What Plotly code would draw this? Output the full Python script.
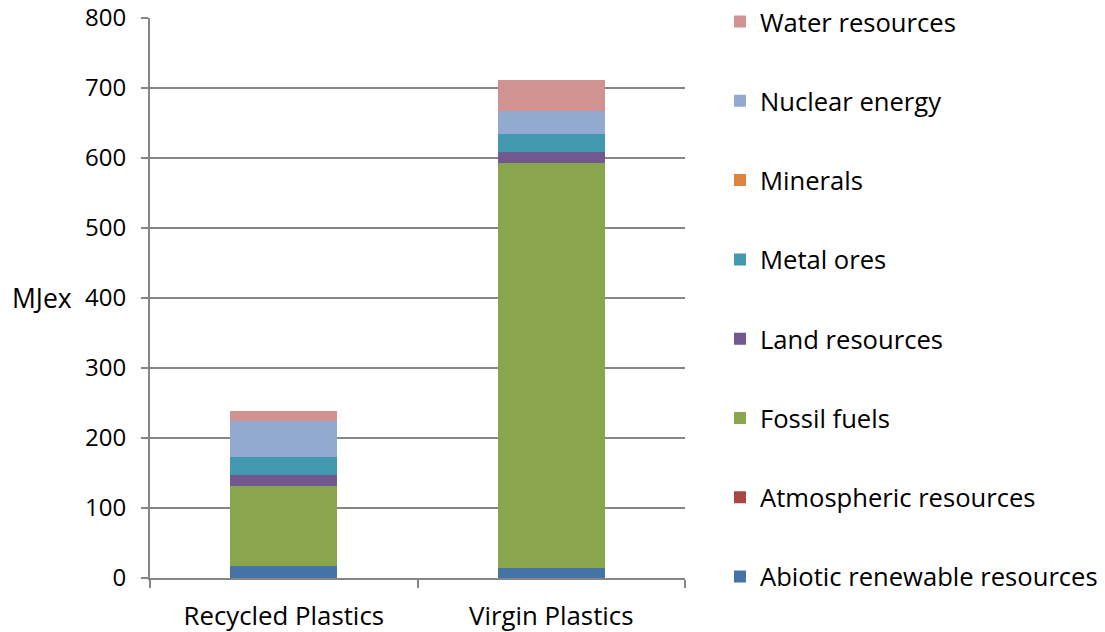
import plotly.graph_objects as go

categories = ["Recycled Plastics", "Virgin Plastics"]

# Exergy consumption per resource category (MJex), bottom to top of each stack
abiotic_renewable = [16.5, 15]
atmospheric = [0, 0]
fossil_fuels = [114.5, 578]
land_resources = [16, 15]
metal_ores = [26, 27]
minerals = [0, 0]
nuclear_energy = [51.5, 32.5]
water_resources = [14, 44]

series = [
    ("Abiotic renewable resources", abiotic_renewable, "#4572A7"),
    ("Atmospheric resources", atmospheric, "#AA4643"),
    ("Fossil fuels", fossil_fuels, "#89A54E"),
    ("Land resources", land_resources, "#71588F"),
    ("Metal ores", metal_ores, "#4198AF"),
    ("Minerals", minerals, "#DB843D"),
    ("Nuclear energy", nuclear_energy, "#93A9CF"),
    ("Water resources", water_resources, "#D19392"),
]

FONT = "Open Sans"

fig = go.Figure()
for i, (name, vals, color) in enumerate(series):
    fig.add_trace(go.Bar(
        x=categories, y=vals, name=name, legendgroup=name,
        legendrank=1000 - i,  # top of the stack listed first
        marker=dict(color=color, line=dict(width=0)),
    ))

fig.update_layout(
    barmode="stack",
    bargap=0.6,
    width=1105, height=632,
    margin=dict(l=150, r=420, t=18, b=54, autoexpand=False),
    paper_bgcolor="white", plot_bgcolor="white",
    font=dict(family=FONT, size=24, color="black"),
    showlegend=True,
    legend=dict(
        traceorder="grouped",
        tracegroupgap=43,
        maxheight=1000,
        x=1.0654, xanchor="left", y=1.035, yanchor="top",
        font=dict(family=FONT, size=25.6, color="black"),
        itemwidth=30,
    ),
    xaxis=dict(
        automargin=False,
        showline=True, linecolor="#868686", linewidth=2,
        ticks="outside", tickson="boundaries", ticklen=8,
        tickcolor="#868686", tickwidth=2,
        showgrid=False,
        tickfont=dict(family=FONT, size=25.8),
        ticklabelstandoff=14,
    ),
    yaxis=dict(
        automargin=False,
        range=[0, 800], dtick=100,
        showline=True, linecolor="#868686", linewidth=2,
        ticks="outside", ticklen=7, tickcolor="#868686", tickwidth=2,
        showgrid=True, gridcolor="#868686", gridwidth=2,
        zeroline=False,
        tickfont=dict(family=FONT, size=24),
        ticklabelstandoff=10,
    ),
    annotations=[dict(
        text="MJex", x=0, xref="paper", xanchor="right", xshift=-76,
        y=400, yref="y", yanchor="middle", showarrow=False,
        font=dict(family=FONT, size=26.5, color="black"),
    )],
)

fig.write_html("out.html")
